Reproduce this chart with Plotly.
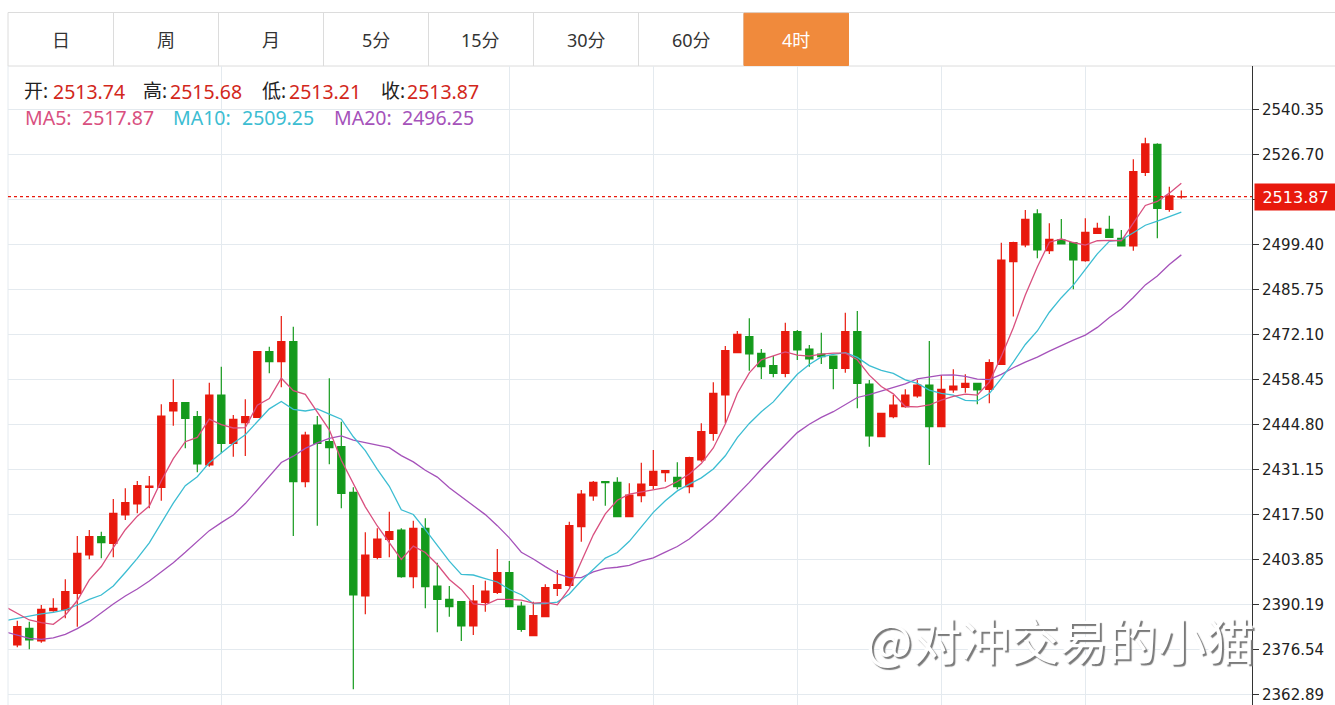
import plotly.graph_objects as go

# ---------------- data (4h candles) ----------------
opens = [2377.85, 2382.91, 2379.07, 2388.27, 2388.47, 2393.53, 2405.15, 2410.72, 2408.69, 2417.29,
         2420.62, 2425.68, 2425.68, 2448.83, 2451.36, 2447.11, 2432.45, 2453.69, 2439.03, 2445.29,
         2446.91, 2466.83, 2463.80, 2469.86, 2427.40, 2444.59, 2439.53, 2438.01, 2424.16, 2392.72,
         2404.45, 2409.91, 2412.74, 2398.58, 2413.24, 2395.75, 2391.71, 2391.00, 2383.62, 2390.80,
         2393.83, 2399.80, 2389.68, 2380.69, 2386.45, 2395.04, 2395.95, 2413.75, 2423.05, 2427.40,
         2427.20, 2416.78, 2423.15, 2426.29, 2430.13, 2428.71, 2425.88, 2433.97, 2442.06, 2453.69,
         2466.53, 2471.38, 2466.33, 2462.58, 2460.26, 2472.90, 2467.64, 2466.12, 2465.52, 2461.78,
         2472.90, 2457.02, 2441.05, 2447.11, 2450.15, 2453.38, 2456.72, 2444.08, 2455.20, 2456.01,
         2457.23, 2455.41, 2463.00, 2494.14, 2499.19, 2508.60, 2497.47, 2500.71, 2499.90, 2494.44,
         2502.73, 2503.95, 2501.22, 2498.89, 2521.24, 2529.73, 2510.01, 2513.74]
highs = [2385.24, 2384.93, 2389.99, 2392.01, 2397.77, 2410.92, 2412.74, 2412.23, 2422.14, 2425.38,
         2427.60, 2429.12, 2450.86, 2458.44, 2451.36, 2448.83, 2457.43, 2462.28, 2447.62, 2452.37,
         2467.03, 2468.35, 2477.65, 2474.41, 2442.56, 2447.32, 2458.74, 2445.60, 2425.68, 2412.03,
         2413.24, 2418.30, 2413.24, 2415.57, 2416.28, 2402.83, 2395.75, 2391.00, 2396.05, 2397.37,
         2406.97, 2403.33, 2391.00, 2391.00, 2396.26, 2400.60, 2415.27, 2424.87, 2427.60, 2427.60,
         2428.71, 2426.89, 2433.16, 2437.00, 2430.74, 2433.26, 2434.98, 2445.09, 2457.53, 2468.55,
         2473.10, 2476.94, 2467.64, 2465.52, 2475.63, 2473.40, 2468.85, 2472.59, 2465.52, 2478.66,
         2479.17, 2458.24, 2448.33, 2453.69, 2455.41, 2458.24, 2470.07, 2459.75, 2461.47, 2459.96,
         2457.43, 2464.51, 2499.90, 2500.20, 2509.81, 2510.01, 2505.77, 2507.08, 2499.90, 2507.28,
         2505.97, 2508.09, 2503.74, 2525.18, 2531.75, 2530.03, 2516.89, 2515.68]
lows = [2377.15, 2376.54, 2378.56, 2387.97, 2385.94, 2383.42, 2403.84, 2404.14, 2404.45, 2415.77,
        2417.79, 2419.31, 2421.64, 2444.38, 2437.51, 2430.23, 2431.95, 2435.99, 2434.98, 2435.18,
        2446.70, 2460.26, 2456.01, 2410.92, 2425.68, 2414.05, 2432.66, 2419.31, 2364.41, 2387.16,
        2403.84, 2404.45, 2398.28, 2395.04, 2388.98, 2381.70, 2386.45, 2379.07, 2380.89, 2387.97,
        2393.32, 2389.48, 2381.90, 2380.69, 2386.25, 2392.72, 2395.55, 2409.20, 2421.64, 2420.12,
        2416.78, 2416.78, 2421.13, 2425.07, 2427.40, 2425.07, 2423.86, 2433.47, 2439.83, 2445.09,
        2466.53, 2461.07, 2458.54, 2459.05, 2459.05, 2464.30, 2462.28, 2463.09, 2455.41, 2460.46,
        2449.64, 2438.01, 2440.85, 2446.61, 2449.84, 2452.88, 2432.45, 2444.08, 2454.39, 2454.39,
        2450.86, 2451.16, 2463.00, 2477.46, 2498.49, 2495.15, 2496.46, 2499.50, 2485.75, 2494.14,
        2502.73, 2501.52, 2498.89, 2497.47, 2520.12, 2501.22, 2509.30, 2513.21]
closes = [2383.42, 2379.37, 2388.67, 2388.98, 2394.03, 2405.66, 2410.72, 2408.90, 2417.79, 2421.03,
          2426.19, 2426.08, 2447.32, 2451.36, 2446.61, 2432.76, 2453.69, 2439.03, 2446.31, 2447.11,
          2466.83, 2463.80, 2469.86, 2427.40, 2441.55, 2439.03, 2437.71, 2423.86, 2393.02, 2405.15,
          2410.01, 2412.23, 2398.58, 2413.24, 2395.55, 2391.71, 2389.48, 2383.62, 2391.20, 2394.23,
          2399.80, 2389.48, 2382.61, 2386.75, 2395.25, 2396.16, 2414.05, 2423.66, 2427.20, 2427.10,
          2416.78, 2423.35, 2426.69, 2430.53, 2430.74, 2425.88, 2434.68, 2442.56, 2454.19, 2467.13,
          2472.09, 2466.12, 2462.28, 2460.26, 2472.90, 2467.34, 2464.61, 2465.31, 2461.78, 2472.90,
          2457.23, 2441.25, 2448.13, 2450.65, 2453.69, 2456.72, 2444.08, 2455.41, 2456.42, 2457.23,
          2455.20, 2463.49, 2494.64, 2499.90, 2506.98, 2497.68, 2500.91, 2499.50, 2494.64, 2503.04,
          2504.25, 2501.52, 2498.89, 2521.44, 2529.83, 2510.32, 2514.06, 2513.87]

# moving-average values before enough candles are on screen (index -1 ..)
ma5_head = [2389.48, 2387.46, 2385.44, 2384.63, 2384.13]
ma10_head = [2385.24, 2385.95, 2386.65, 2387.26, 2387.77, 2388.47, 2389.99, 2391.71, 2393.02, 2395.75]
ma20_head = [2381.80, 2380.89, 2379.88, 2379.58, 2379.98, 2381.09, 2382.81, 2384.93, 2387.67, 2390.29,
             2392.72, 2394.84, 2397.27, 2400.10, 2402.83, 2405.97, 2409.20, 2412.54, 2414.97, 2417.29]

y_ticks = [2362.89, 2376.54, 2390.19, 2403.85, 2417.50, 2431.15, 2444.80, 2458.45,
           2472.10, 2485.75, 2499.40, 2513.05, 2526.70, 2540.35]
y_tick_text = ["2362.89", "2376.54", "2390.19", "2403.85", "2417.50", "2431.15", "2444.80", "2458.45",
               "2472.10", "2485.75", "2499.40", "", "2526.70", "2540.35"]
day_lines = [17, 41, 53, 65, 77, 89]
tabs = ["日", "周", "月", "5分", "15分", "30分", "60分", "4时"]
ma_names = ["MA5:", "MA10:", "MA20:"]
ma_values = ["2517.87", "2509.25", "2496.25"]

# ---------------- styles ----------------
RED = "#e8190d"
GREEN = "#149a1c"
C_MA5, C_MA10, C_MA20 = "#d9507f", "#3cbdd2", "#a552ba"
GRID = "#e4eaef"
TXT = "#222222"
FONT = "Noto Sans, Noto Sans CJK SC, sans-serif"

W, H = 1335, 705
PL, PR, PT, PB = 8, 1252, 66, 705


def xp(X):
    return (X - PL) / (PR - PL)


def yp(Y):
    return (PB - Y) / (PB - PT)


def moving_average(vals, n, head):
    out = list(head)
    for k in range(n - 1, len(vals)):
        out.append(sum(vals[k - n + 1:k + 1]) / n)
    return out


idx = list(range(len(closes)))
ma_x = list(range(-1, len(closes)))

fig = go.Figure()
fig.add_trace(go.Candlestick(
    x=idx, open=opens, high=highs, low=lows, close=closes,
    increasing=dict(line=dict(color=RED, width=1.2), fillcolor=RED),
    decreasing=dict(line=dict(color=GREEN, width=1.2), fillcolor=GREEN),
    whiskerwidth=0, hoverinfo="skip", showlegend=False,
))
for n, head, col in [(20, ma20_head, C_MA20), (10, ma10_head, C_MA10), (5, ma5_head, C_MA5)]:
    fig.add_trace(go.Scatter(x=ma_x, y=moving_average(closes, n, head), mode="lines",
                             line=dict(color=col, width=1.3), hoverinfo="skip", showlegend=False))

shapes = []
# tab bar
shapes.append(dict(type="rect", xref="paper", yref="paper", x0=xp(8), x1=xp(1335.5), y0=yp(66), y1=yp(12.5),
                   line=dict(color="#dcdcdc", width=1), fillcolor="white", layer="below"))
tab_edges = [8, 113.5, 218.5, 323.5, 428.5, 533.5, 638.5, 743.5, 848.5]
for xe in tab_edges[1:]:
    shapes.append(dict(type="line", xref="paper", yref="paper", x0=xp(xe), x1=xp(xe), y0=yp(66), y1=yp(12.5),
                       line=dict(color="#dcdcdc", width=1)))
shapes.append(dict(type="rect", xref="paper", yref="paper", x0=xp(744), x1=xp(848.5), y0=yp(65.5), y1=yp(13.3),
                   line=dict(color="#f08a3c", width=1), fillcolor="#f08a3c"))
# left border of chart
shapes.append(dict(type="line", xref="paper", yref="paper", x0=0, x1=0, y0=0, y1=1,
                   line=dict(color=GRID, width=1)))
# last price dotted line
shapes.append(dict(type="line", xref="paper", yref="y", x0=0, x1=1, y0=closes[-1], y1=closes[-1],
                   line=dict(color=RED, width=1.3, dash="dot")))

ann = []
tab_centers = [(tab_edges[i] + tab_edges[i + 1]) / 2 for i in range(len(tabs))]
for i, (t, cx) in enumerate(zip(tabs, tab_centers)):
    ann.append(dict(text=t, xref="paper", yref="paper", x=xp(cx), y=yp(40), showarrow=False,
                    xanchor="center", yanchor="middle",
                    font=dict(family=FONT, size=18, color="white" if t == "4时" else "#333333")))

info = [("开:", opens[-1], 22, 51), ("高:", highs[-1], 141, 168),
        ("低:", lows[-1], 260, 287), ("收:", closes[-1], 379, 405)]
for lab, val, x1, x2 in info:
    ann.append(dict(text=lab, xref="paper", yref="paper", x=xp(x1), y=yp(91), xanchor="left",
                    yanchor="middle", showarrow=False, font=dict(family=FONT, size=19, color=TXT)))
    ann.append(dict(text=f"{val:.2f}", xref="paper", yref="paper", x=xp(x2), y=yp(91), xanchor="left",
                    yanchor="middle", showarrow=False, font=dict(family=FONT, size=19.5, color="#d2271b")))
for nm, val, x1, x2, col in zip(ma_names, ma_values, [23, 171, 332], [80, 240, 400],
                                [C_MA5, C_MA10, C_MA20]):
    ann.append(dict(text=nm, xref="paper", yref="paper", x=xp(x1), y=yp(118), xanchor="left",
                    yanchor="middle", showarrow=False, font=dict(family=FONT, size=19.5, color=col)))
    ann.append(dict(text=val, xref="paper", yref="paper", x=xp(x2), y=yp(118), xanchor="left",
                    yanchor="middle", showarrow=False, font=dict(family=FONT, size=19.5, color=col)))

# last price label
ann.append(dict(text=f"{closes[-1]:.2f}", xref="paper", yref="y", x=xp(1254), y=closes[-1],
                xanchor="left", yanchor="middle", showarrow=False, bgcolor=RED, width=77, height=22,
                borderpad=2, align="center",
                font=dict(family="DejaVu Sans, sans-serif", size=16, color="white")))

# watermark
ann.append(dict(text="@对冲交易的小猫", xref="paper", yref="paper", x=xp(1060), y=yp(638),
                xanchor="center", yanchor="middle", showarrow=False,
                font=dict(family="Noto Sans CJK SC, sans-serif", size=49, color="white",
                          shadow="2px 2px 1px #7a7a7a")))

fig.update_layout(
    width=W, height=H,
    margin=dict(l=PL, r=W - PR, t=PT, b=H - PB, pad=0),
    paper_bgcolor="white", plot_bgcolor="white",
    showlegend=False,
    boxgap=0.4, boxgroupgap=0,
    shapes=shapes, annotations=ann,
    xaxis=dict(range=[-0.775, 102.89], tickvals=day_lines, showticklabels=False, ticks="",
               showgrid=True, gridcolor=GRID, gridwidth=1, zeroline=False, showline=False,
               rangeslider=dict(visible=False), fixedrange=True, automargin=False),
    yaxis=dict(range=[2359.65, 2553.48], side="right", tickvals=y_ticks, ticktext=y_tick_text,
               showgrid=True, gridcolor=GRID, gridwidth=1, zeroline=False,
               showline=True, linecolor="#333333", linewidth=1,
               ticks="outside", ticklen=6, tickcolor="#333333", tickwidth=1,
               tickfont=dict(family="DejaVu Sans, sans-serif", size=15, color=TXT),
               fixedrange=True, automargin=False),
)

fig.write_html("out.html", config={"displayModeBar": False},
               post_script="document.body.style.margin='0px';document.body.style.overflow='hidden';")
